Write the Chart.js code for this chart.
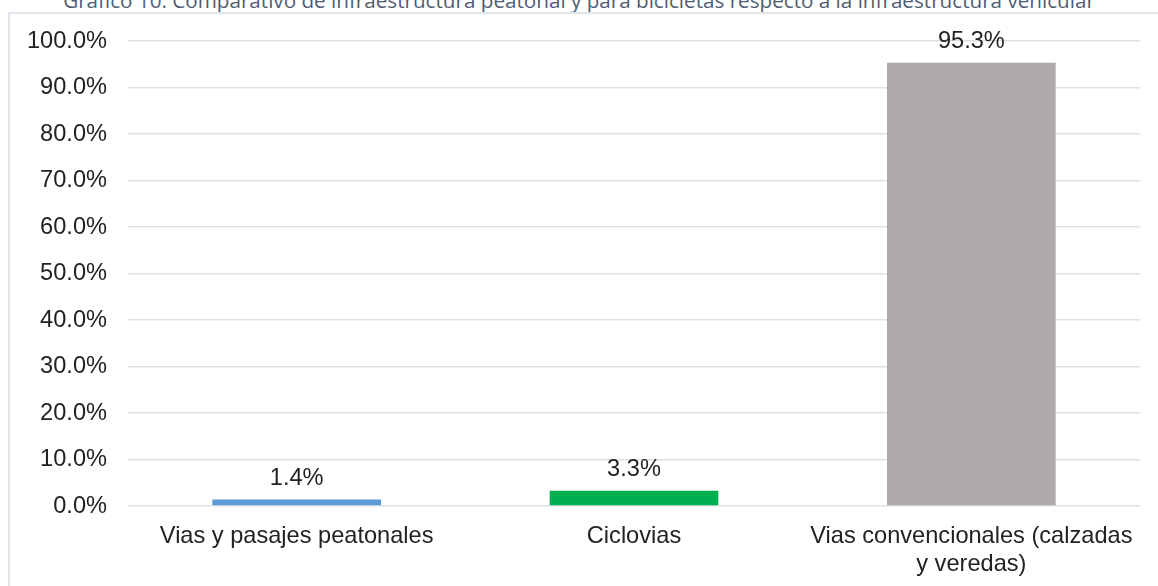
<!DOCTYPE html>
<html>
<head>
<meta charset="utf-8">
<script src="https://cdn.jsdelivr.net/npm/chart.js@4.4.1/dist/chart.umd.min.js"></script>
<style>
  html, body { margin: 0; padding: 0; background: #ffffff; overflow: hidden; }
  body { width: 1158px; height: 586px; position: relative; }
  #frame { position: absolute; left: 8px; top: 12px; width: 1300px; height: 700px;
           border-left: 2px solid #dfe3ea; border-top: 2px solid #dfe3ea; box-sizing: border-box; }
  #title { position: absolute; left: 0; width: 1158px; top: -10px; text-align: center;
           font-family: "Open Sans", sans-serif; color: #4f5d73; white-space: nowrap; line-height: 1; }
  #wrap { position: absolute; left: 0; top: 0; width: 1158px; height: 586px; }
</style>
</head>
<body>
<div id="title">Gráfico 10: Comparativo de infraestructura peatonal y para bicicletas respecto a la infraestructura vehicular</div>
<div id="frame"></div>
<div id="wrap"><canvas id="c" width="1158" height="586"></canvas></div>
<script>
const categories = [
  'Vias y pasajes peatonales',
  'Ciclovias',
  ['Vias convencionales (calzadas', 'y veredas)']
];
const values = [1.4, 3.3, 95.3];
const barColors = ['#5B9BD5', '#00B050', '#AEAAAA'];
const yTicksMin = 0;
const yTicksMax = 100;
const yTickStep = 10;

// Fit title width to the reference (~1032px wide)
(function () {
  const t = document.getElementById('title');
  const m = document.createElement('canvas').getContext('2d');
  m.font = '20px "Open Sans"';
  const w = m.measureText(t.textContent).width;
  const fs = 20 * 1032 / w;
  t.style.fontSize = fs.toFixed(2) + 'px';
})();

const FONT = { family: '"Liberation Sans", Arial, sans-serif', size: 23.6 };

const dataLabelPlugin = {
  id: 'dataLabels',
  afterDatasetsDraw(chart) {
    const ctx = chart.ctx;
    const meta = chart.getDatasetMeta(0);
    ctx.save();
    ctx.font = FONT.size + 'px ' + FONT.family;
    ctx.fillStyle = '#222222';
    ctx.textAlign = 'center';
    ctx.textBaseline = 'alphabetic';
    meta.data.forEach((bar, i) => {
      const v = chart.data.datasets[0].data[i];
      ctx.fillText(v.toFixed(1) + '%', bar.x, bar.y - 14.5);
    });
    ctx.restore();
  }
};

new Chart(document.getElementById('c'), {
  type: 'bar',
  data: {
    labels: categories,
    datasets: [{
      data: values,
      backgroundColor: barColors,
      borderWidth: 0,
      categoryPercentage: 1.0,
      barPercentage: 0.5
    }]
  },
  options: {
    responsive: false,
    animation: false,
    devicePixelRatio: 1,
    layout: { padding: { left: 0, right: 18, top: 41, bottom: 0 } },
    plugins: {
      legend: { display: false },
      tooltip: { enabled: false },
      title: { display: false }
    },
    scales: {
      x: {
        afterFit(scale) { scale.height = 80; },
        grid: { display: false, drawTicks: false },
        border: { display: false },
        ticks: {
          color: '#222222',
          font: FONT,
          padding: 16,
          maxRotation: 0,
          minRotation: 0,
          autoSkip: false
        }
      },
      y: {
        min: yTicksMin,
        max: yTicksMax,
        afterFit(scale) { scale.width = 128; },
        grid: { color: '#dde1e7', lineWidth: 1.5, drawTicks: false },
        border: { display: false },
        ticks: {
          stepSize: yTickStep,
          color: '#222222',
          font: FONT,
          padding: 21,
          callback: (v) => Number(v).toFixed(1) + '%'
        }
      }
    }
  },
  plugins: [dataLabelPlugin]
});
</script>
</body>
</html>
